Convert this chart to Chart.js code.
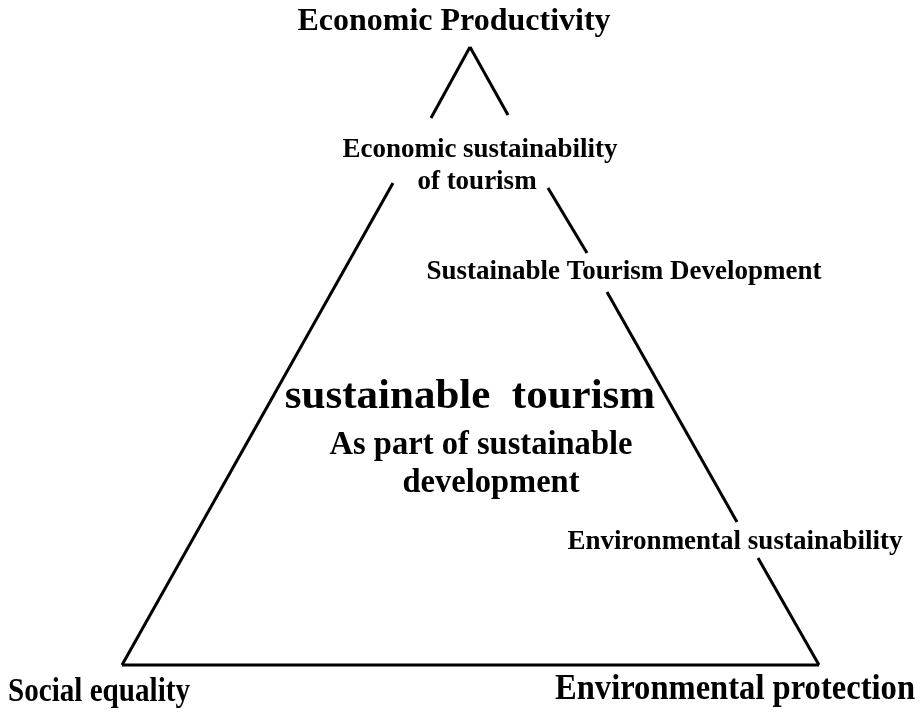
<!DOCTYPE html>
<html>
<head>
<meta charset="utf-8">
<script src="https://cdn.jsdelivr.net/npm/chart.js@4/dist/chart.umd.min.js"></script>
<style>
  html, body { margin: 0; padding: 0; background: #fff; }
  #wrap { width: 920px; height: 715px; position: relative; }
</style>
</head>
<body>
<div id="wrap"><canvas id="pyramid"></canvas></div>
<script>
// ========== 数据 ==========
// triangle edges (null = break where text sits)
const leftEdge  = [[470, 47], [431, 118], null, [393, 183], [122, 665]];
const rightEdge = [[470, 47], [508, 115], null, [548, 188], [587, 253], null,
                   [607, 292], [737, 522], null, [758, 558], [819, 665]];
const baseEdge  = [[122, 665], [819, 665]];

const labelTexts = [
    'Economic Productivity',
    'Economic sustainability',
    'of tourism',
    'Sustainable Tourism Development',
    'sustainable  tourism',
    'As part of sustainable',
    'development',
    'Environmental sustainability',
    'Social equality',
    'Environmental protection'
];
const labelX = [454, 480, 477, 624, 470, 481, 491, 735, 99, 735];
const labelY = [22, 150, 182, 272, 397, 445, 483, 542, 692, 690];

// ========== 线段拆分 ==========
function toSegments(edge) {
    const out = [];
    let cur = [];
    edge.forEach(p => {
        if (p === null) {
            if (cur.length) out.push(cur);
            cur = [];
        } else {
            cur.push({ x: p[0], y: p[1] });
        }
    });
    if (cur.length) out.push(cur);
    return out;
}

const segments = [...toSegments(leftEdge), ...toSegments(rightEdge), ...toSegments(baseEdge)];

// ========== 文字样式 ==========
const labelStyle = [
    { size: 32, width: 318 },
    { size: 27, width: 275 },
    { size: 27, width: 120 },
    { size: 27, width: 398 },
    { size: 43, width: 375 },
    { size: 33, width: 303 },
    { size: 33, width: 177 },
    { size: 27, width: 335 },
    { size: 34, width: 182 },
    { size: 35, width: 360 }
];

const labelPlugin = {
    id: 'pyramidLabels',
    afterDatasetsDraw(chart) {
        const { ctx, scales: { x, y } } = chart;
        ctx.save();
        ctx.fillStyle = '#000';
        ctx.textAlign = 'center';
        ctx.textBaseline = 'middle';
        labelTexts.forEach((t, i) => {
            const st = labelStyle[i];
            ctx.font = `bold ${st.size}px "Liberation Serif", "Times New Roman", serif`;
            ctx.fillText(t, x.getPixelForValue(labelX[i]), y.getPixelForValue(labelY[i]), st.width);
        });
        ctx.restore();
    }
};

new Chart(document.getElementById('pyramid'), {
    type: 'scatter',
    data: {
        datasets: segments.map(seg => ({
            data: seg,
            showLine: true,
            borderColor: '#000',
            borderWidth: 3,
            pointRadius: 0,
            pointHoverRadius: 0,
            fill: false,
            tension: 0
        }))
    },
    options: {
        responsive: true,
        maintainAspectRatio: false,
        animation: false,
        layout: { padding: 0 },
        plugins: {
            legend: { display: false },
            tooltip: { enabled: false }
        },
        scales: {
            x: { type: 'linear', min: 0, max: 920, display: false },
            y: { type: 'linear', min: 0, max: 715, reverse: true, display: false }
        }
    },
    plugins: [labelPlugin]
});
</script>
</body>
</html>
